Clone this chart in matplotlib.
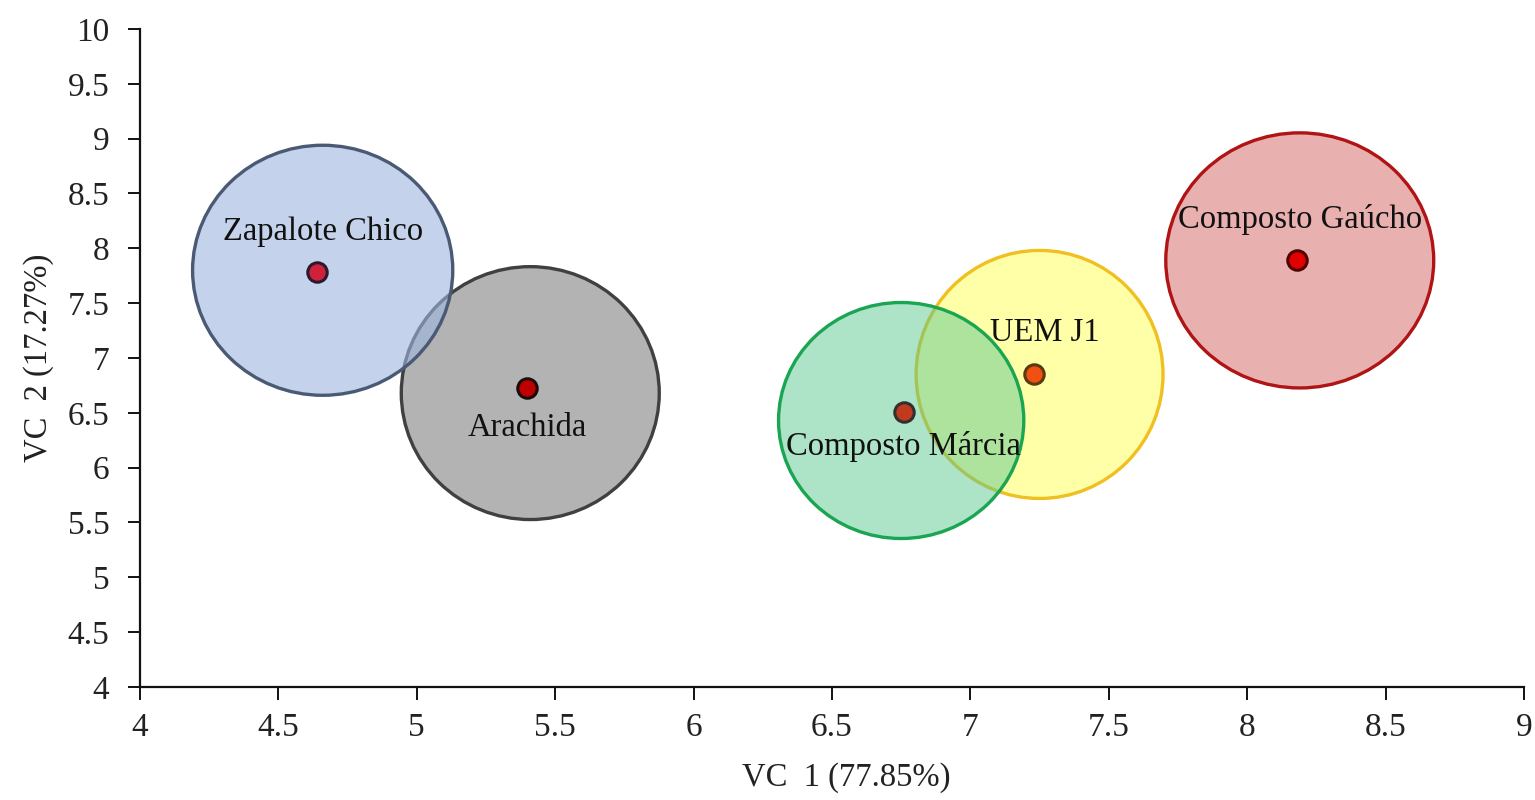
import matplotlib
matplotlib.use("Agg")
import matplotlib.pyplot as plt
from matplotlib.patches import Ellipse

plt.rcParams['font.family'] = ['Liberation Serif', 'DejaVu Serif']

# Data
names = ["Zapalote Chico", "Arachida", "Composto Márcia", "UEM J1", "Composto Gaúcho"]
point_x = [4.64, 5.40, 6.76, 7.23, 8.18]
point_y = [7.78, 6.73, 6.51, 6.85, 7.89]
circle_x = [4.66, 5.41, 6.75, 7.25, 8.19]
circle_y = [7.80, 6.68, 6.43, 6.85, 7.89]
radius_x = [0.470, 0.466, 0.443, 0.446, 0.484]
radius_y = [1.140, 1.153, 1.076, 1.131, 1.163]
label_x = [4.66, 5.40, 6.76, 7.27, 8.19]
label_y = [8.15, 6.36, 6.19, 7.23, 8.26]

x_ticks = [4, 4.5, 5, 5.5, 6, 6.5, 7, 7.5, 8, 8.5, 9]
y_ticks = [4, 4.5, 5, 5.5, 6, 6.5, 7, 7.5, 8, 8.5, 9, 9.5, 10]
x_label = "VC  1 (77.85%)"
y_label = "VC  2 (17.27%)"

# Styles
fill_colors = ["#9EB6DF", "#B3B3B3", "#5CC891", "#FFFFA8", "#E9B0B0"]
fill_alpha = [0.6, 1.0, 0.5, 1.0, 1.0]
edge_colors = ["#4A5A74", "#404040", "#1AA552", "#F0C020", "#B01414"]
zorders = [3, 2, 5, 4, 2]
dot_colors = ["#D0203A", "#C00000", "#C03A20", "#F05010", "#E00000"]
dot_edges = ["#2A1A30", "#1A0A0A", "#303030", "#5A3A10", "#500000"]

fig = plt.figure(figsize=(15.35, 8.0), dpi=100)
ax = fig.add_axes([0.0912, 0.14125, 0.9016, 0.8225])

for i in range(len(names)):
    fc = matplotlib.colors.to_rgba(fill_colors[i], fill_alpha[i])
    e = Ellipse((circle_x[i], circle_y[i]), width=2 * radius_x[i], height=2 * radius_y[i],
                facecolor=fc, edgecolor=edge_colors[i], linewidth=2.4, zorder=zorders[i])
    ax.add_patch(e)

for i in range(len(names)):
    ax.plot(point_x[i], point_y[i], 'o', markersize=14, markerfacecolor=dot_colors[i],
            markeredgecolor=dot_edges[i], markeredgewidth=2.2, zorder=10)
    ax.text(label_x[i], label_y[i], names[i], ha='center', va='center', fontsize=23.5,
            color='#111111', zorder=11)

ax.set_xlim(4, 9)
ax.set_ylim(4, 10)
ax.set_xticks(x_ticks)
ax.set_yticks(y_ticks)
ax.set_xticklabels([f"{v:g}" for v in x_ticks])
ax.set_yticklabels([f"{v:g}" for v in y_ticks])
ax.spines['top'].set_visible(False)
ax.spines['right'].set_visible(False)
for s in ['left', 'bottom']:
    ax.spines[s].set_linewidth(1.6)
    ax.spines[s].set_color('#111111')
ax.tick_params(axis='both', direction='out', length=9, width=1.4, colors='#111111',
               labelsize=24, labelcolor='#222222')
ax.tick_params(axis='y', pad=13)
ax.tick_params(axis='x', pad=9)
ax.set_xlabel(x_label, fontsize=23.5, color='#222222')
ax.set_ylabel(y_label, fontsize=23.5, color='#222222')
ax.xaxis.set_label_coords(0.51, -0.115)
ax.yaxis.set_label_coords(-0.062, 0.5)
for s in ax.spines.values():
    s.set_zorder(20)

fig.savefig("out.png", dpi=100, facecolor='white')
